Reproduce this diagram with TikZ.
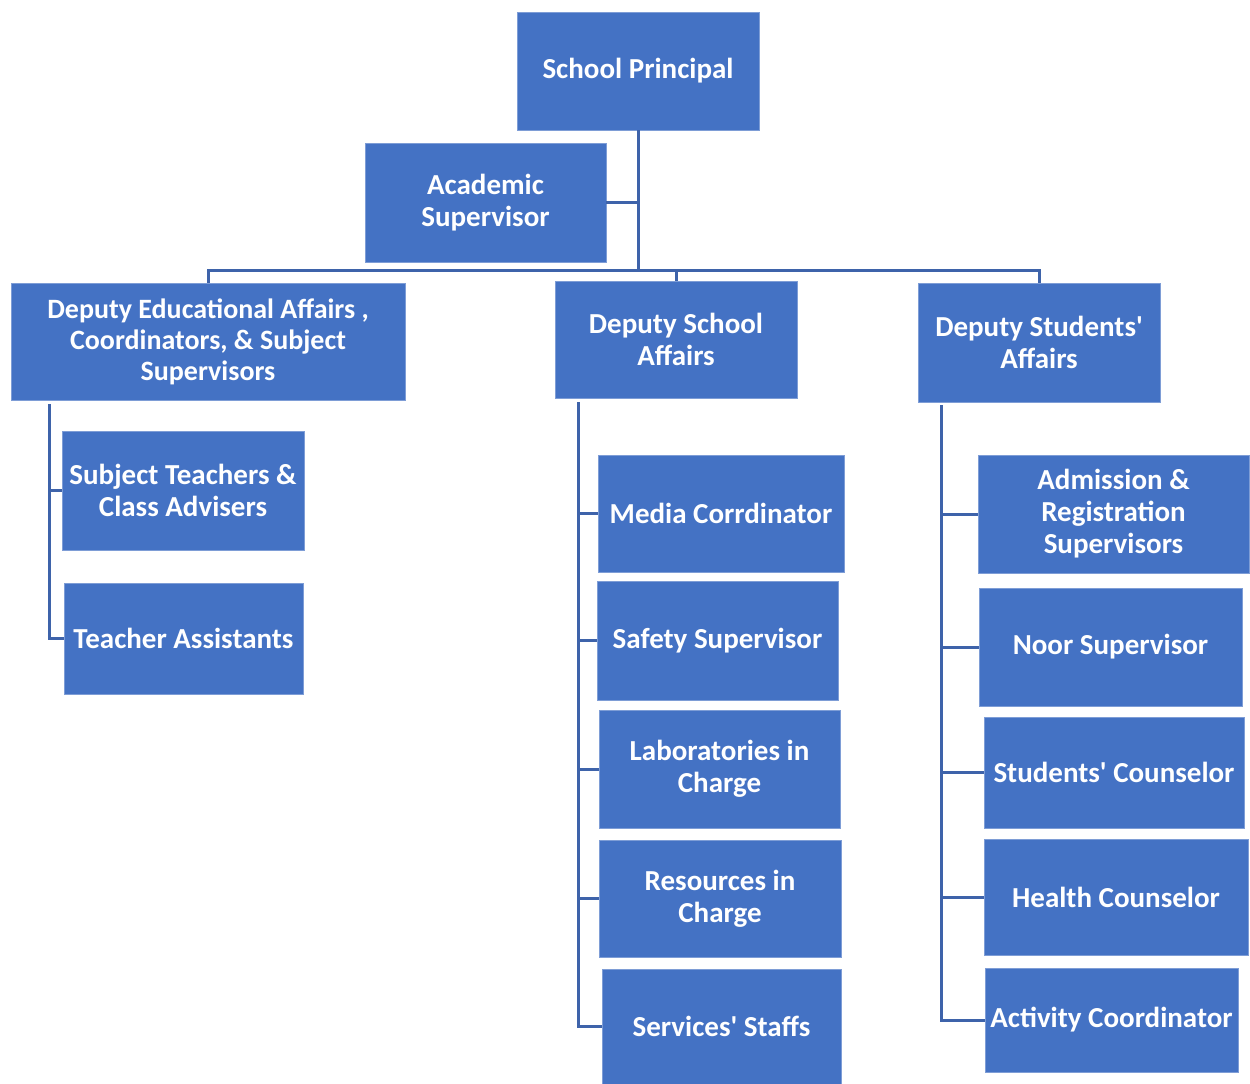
\documentclass[tikz,border=0pt]{standalone}
\usepackage{fontspec}
\setmainfont{Carlito}[Ligatures=TeXOff]
\definecolor{boxblue}{HTML}{4472C4}
\definecolor{boxedge}{HTML}{7E9DD6}
\definecolor{linkblue}{HTML}{3E63AA}
\newcommand{\apos}{{\char39}}
\begin{document}
\begin{tikzpicture}[x=1pt,y=-1pt,
  box/.style={fill=boxblue,draw=boxedge,line width=0.8pt,text=white,font=\bfseries\fontsize{29}{32}\selectfont,
    align=center,inner sep=0pt},
  conn/.style={draw=linkblue,line width=3pt}]
\useasboundingbox[fill=white] (0,0) rectangle (1250,1084);
% top level
\node[box,minimum width=242,minimum height=118] (sp) at (638,71) {School Principal};
\node[box,minimum width=241,minimum height=119] (as) at (485.5,202.5) {Academic\\Supervisor};
% deputies
\node[box,minimum width=394,minimum height=117,font=\bfseries\fontsize{28}{31}\selectfont] (de) at (208,341.5) {Deputy Educational Affairs ,\\Coordinators, \& Subject\\Supervisors};
\node[box,minimum width=242,minimum height=117] (ds) at (676,339.5) {Deputy School\\Affairs};
\node[box,minimum width=242,minimum height=119] (dst) at (1039,342.5) {Deputy Students\apos\\Affairs};
% left column
\node[box,minimum width=242,minimum height=119] (st) at (183,490.5) {Subject Teachers \&\\Class Advisers};
\node[box,minimum width=239,minimum height=111] (ta) at (183.5,638.5) {Teacher Assistants};
% middle column
\node[box,minimum width=246,minimum height=117] (mc) at (721,513.5) {Media Corrdinator};
\node[box,minimum width=241,minimum height=119] (ss) at (717.5,640.5) {Safety Supervisor};
\node[box,minimum width=241,minimum height=118] (lab) at (719.5,769) {Laboratories in\\Charge};
\node[box,minimum width=242,minimum height=117] (res) at (720,898.5) {Resources in\\Charge};
\node[box,minimum width=239,minimum height=115] (svc) at (721.5,1026.5) {Services\apos{} Staffs};
% right column
\node[box,minimum width=271,minimum height=118] (adm) at (1113.5,514) {Admission \&\\Registration\\Supervisors};
\node[box,minimum width=263,minimum height=118] (noor) at (1110.5,647) {Noor Supervisor};
\node[box,minimum width=260,minimum height=111] (sc) at (1114,772.5) {Students\apos{} Counselor};
\node[box,minimum width=264,minimum height=116] (hc) at (1116,897) {Health Counselor};
\node[box,minimum width=253,minimum height=104] (ac) at (1111.5,1020) {Activity Coordinator};
% connectors
\coordinate (bus) at (638,270);
\draw[conn] (sp.south) -- (bus);
\draw[conn] (as.east) -- (as.east -| sp.south);
\draw[conn] (de.north) |- (bus) -| (dst.north);
\draw[conn] (ds.north) -- (ds.north |- bus);
\coordinate (lt) at (49,404);
\draw[conn] (lt) |- (st.west);
\draw[conn] (lt) |- (ta.west);
\coordinate (mt) at (578,402);
\foreach \n in {mc,ss,lab,res,svc} \draw[conn] (mt) |- (\n.west);
\coordinate (rt) at (941,405);
\foreach \n in {adm,noor,sc,hc,ac} \draw[conn] (rt) |- (\n.west);
\end{tikzpicture}
\end{document}
